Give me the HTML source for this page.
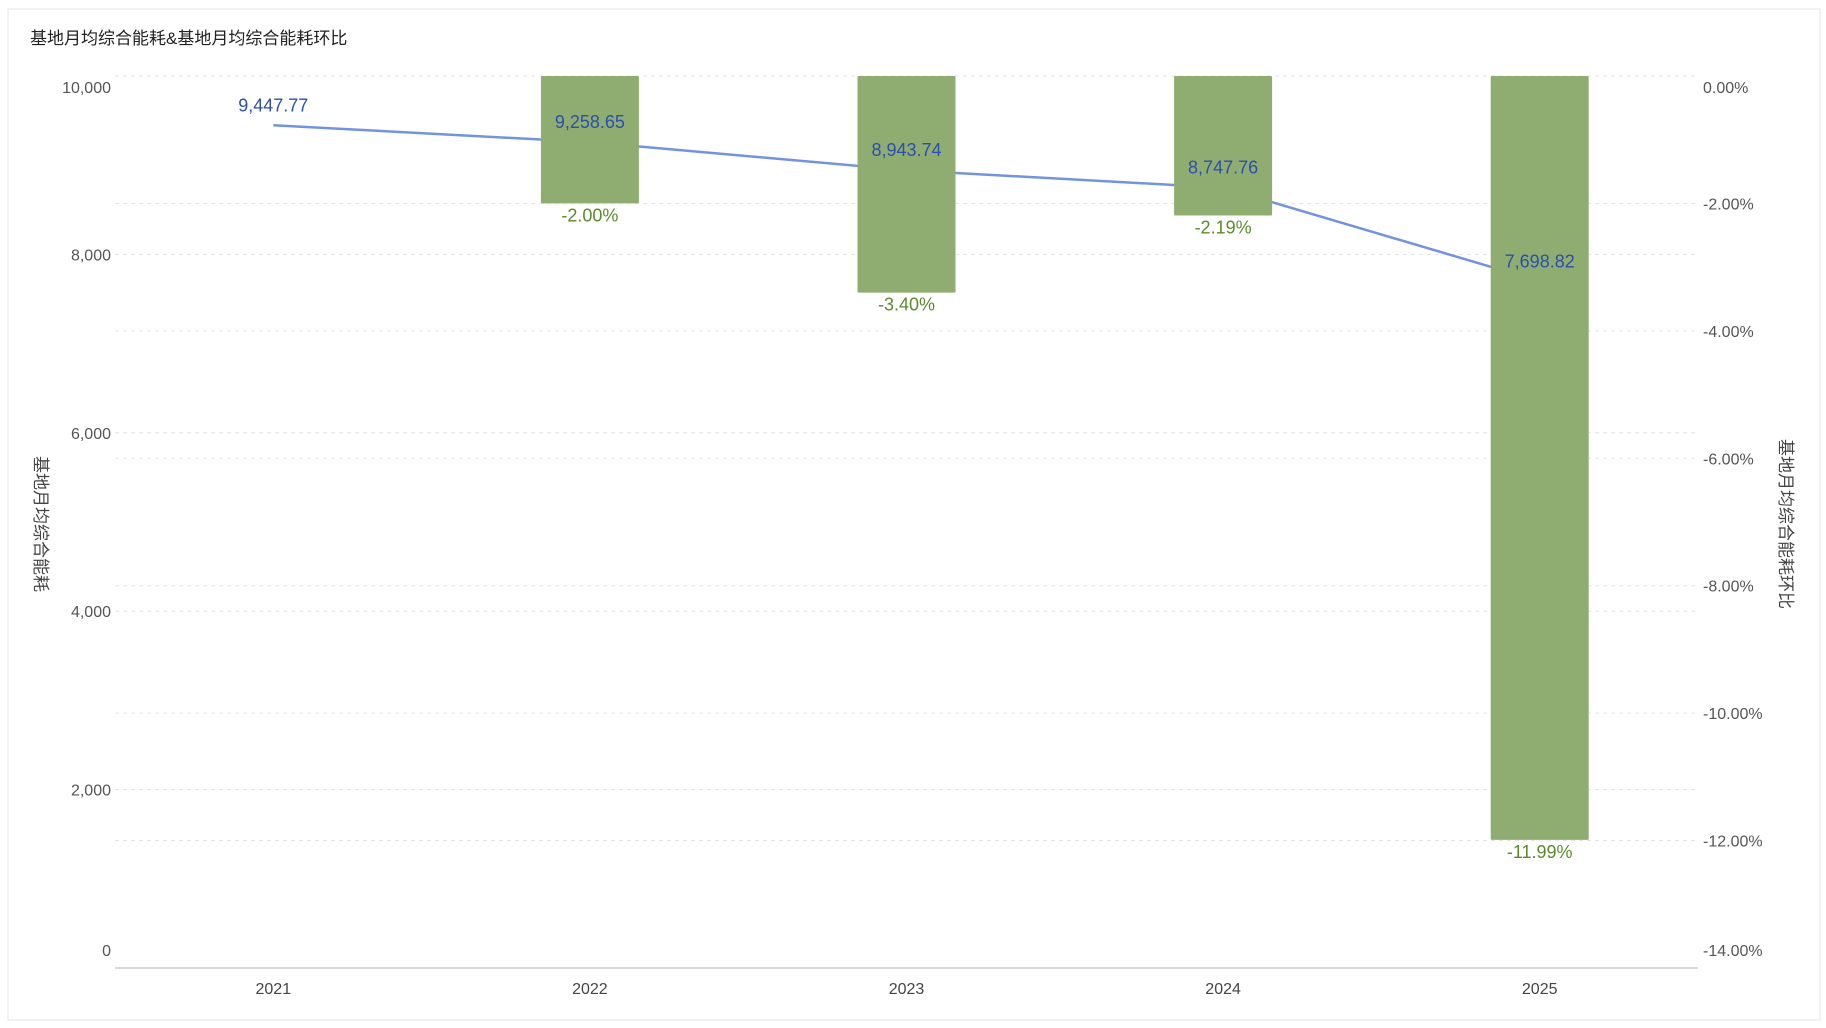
<!DOCTYPE html>
<html><head><meta charset="utf-8"><style>
body{margin:0;background:#fff;}
svg{display:block;font-family:"Liberation Sans","Noto Sans CJK SC",sans-serif;}
</style></head><body>
<svg id="c" width="1826" height="1028">
<rect x="8" y="9" width="1812" height="1011" fill="#fff" stroke="#e6e6e6"/>
<text x="30" y="44" font-size="17" fill="#222">基地月均综合能耗&amp;基地月均综合能耗环比</text>
<text transform="translate(35,524) rotate(90)" font-size="17" fill="#444" text-anchor="middle">基地月均综合能耗</text>
<text transform="translate(1780,524) rotate(90)" font-size="17" fill="#444" text-anchor="middle">基地月均综合能耗环比</text>
<g id="grid"></g><g id="axes"></g><g id="lineg"></g><g id="bars"></g><g id="labels"></g>
</svg>
<script>
const categories=["2021","2022","2023","2024","2025"];
const energy=[9447.77,9258.65,8943.74,8747.76,7698.82];
const ratio=[null,-2.00,-3.40,-2.19,-11.99];
const leftTicks=[0,2000,4000,6000,8000,10000];
const rightTicks=[0,-2,-4,-6,-8,-10,-12,-14];
const NS="http://www.w3.org/2000/svg";
const X0=115,X1=1698,YB=968,YT=76;
const band=(X1-X0)/categories.length;
const xc=i=>X0+band*(i+0.5);
const yL=v=>YB-(v/10000)*(YB-YT);
const yR=v=>YT+(v/-14)*(YB-YT);
function mk(t,a,p,txt){const e=document.createElementNS(NS,t);for(const k in a)e.setAttribute(k,a[k]);if(txt!=null)e.textContent=txt;document.getElementById(p).appendChild(e);return e;}
leftTicks.forEach((v,i)=>{
  const y=yL(v);
  if(v>0){const g=mk('line',{x1:X0,x2:X1,y1:y,y2:y,stroke:'#e3e3e3','stroke-dasharray':'4 4'},'grid');
  }
  let ly=y+6; if(v===0)ly=y-12; if(v===10000)ly=y+17;
  const t=mk('text',{x:111,y:ly,'text-anchor':'end','font-size':16,fill:'#555'},'axes',v.toLocaleString('en-US'));
  
});
rightTicks.forEach(v=>{
  const y=yR(v);
  if(v>-14){const g=mk('line',{x1:X0,x2:X1,y1:y,y2:y,stroke:'#e3e3e3','stroke-dasharray':'4 4'},'grid');
  }
  let ly=y+6; if(v===0)ly=y+17; if(v===-14)ly=y-12;
  const t=mk('text',{x:1703,y:ly,'font-size':16,fill:'#555'},'axes',v.toFixed(2)+'%');
  
});
const ax=mk('line',{x1:X0,x2:X1,y1:YB,y2:YB,stroke:'#ccc','stroke-width':1.5},'axes');

categories.forEach((c,i)=>{
  const t=mk('text',{x:xc(i),y:994,'text-anchor':'middle','font-size':16,fill:'#444'},'axes',c);
  
});
const pl=mk('polyline',{points:energy.map((v,i)=>xc(i)+','+yL(v)).join(' '),fill:'none',stroke:'#7393e0','stroke-width':2.5},'lineg');

ratio.forEach((v,i)=>{
  if(v==null)return;
  const y0=yR(0),y1=yR(v);
  const b=mk('rect',{x:xc(i)-49,y:y0,width:98,height:y1-y0,fill:'#8fad70',rx:1},'bars');
  
  const t=mk('text',{x:xc(i),y:y1+18,'text-anchor':'middle','font-size':18,fill:'#5b8a2e'},'labels',v.toFixed(2)+'%');
  
});
energy.forEach((v,i)=>{
  const t=mk('text',{x:xc(i),y:yL(v)-14,'text-anchor':'middle','font-size':18,fill:'#2b4fae'},'labels',v.toLocaleString('en-US',{minimumFractionDigits:2,maximumFractionDigits:2}));
  
});
</script>
</body></html>
